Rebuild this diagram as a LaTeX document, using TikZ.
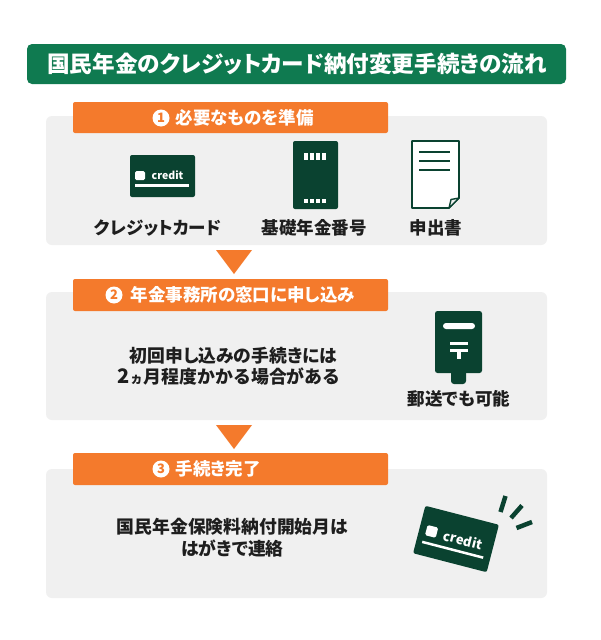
\documentclass[tikz,border=0pt]{standalone}
\usepackage{fontspec}
\setmainfont{Noto Sans CJK JP}[RawFeature=+palt]
\newfontfamily\jpfull{Noto Sans CJK JP}
\usetikzlibrary{calc}
\definecolor{titlegreen}{HTML}{0F7A50}
\definecolor{dark}{HTML}{0A4230}
\definecolor{panel}{HTML}{F0F0F0}
\definecolor{orangebar}{HTML}{F47A2C}
\definecolor{ink}{HTML}{1E1E1E}
\tikzset{
 x=1pt,y=-1pt,
 panelbox/.style={fill=panel,rounded corners=6pt},
 headbar/.style={fill=orangebar,rounded corners=2pt},
 flowtri/.style={fill=orangebar},
 hd/.style={text=white,font=\fontsize{17.5}{18}\selectfont\bfseries,inner sep=0pt,anchor=base west},
 lbl/.style={text=ink,font=\fontsize{17.5}{18}\selectfont\bfseries,inner sep=0pt,anchor=base},
 body/.style={text=ink,font=\fontsize{17.8}{22}\selectfont\bfseries,inner sep=0pt,anchor=base},
 num/.style={circle,fill=white,minimum size=17pt,inner sep=0pt,text=orangebar,font=\fontsize{13}{13}\selectfont\bfseries},
 darkfill/.style={fill=dark},
 whitefill/.style={fill=white},
}
\begin{document}
\begin{tikzpicture}
\useasboundingbox (0,0) rectangle (600,640);
\fill[white] (0,0) rectangle (600,640);
% title
\fill[titlegreen,rounded corners=5pt] (27,44) rectangle (566,84);
\node[inner sep=0pt,text=white,font=\fontsize{22.6}{24}\selectfont\bfseries,anchor=base] (title) at (297,72) {国民年金のクレジットカード納付変更手続きの流れ};
% panels
\fill[panelbox] (46,116) rectangle (547,245);
\fill[panelbox] (46,292) rectangle (547,420);
\fill[panelbox] (46,469) rectangle (547,598);
% arrows
\fill[flowtri] (216,250) -- (252,250) -- (234,274) -- cycle;
\fill[flowtri] (216,425) -- (252,425) -- (234,449) -- cycle;
% head bars
\fill[headbar] (73,102) rectangle (388,133);
\fill[headbar] (73,279) rectangle (388,311);
\fill[headbar] (73,453) rectangle (388,485);
\node[num] (n1) at (161,118) {1};
\node[hd] (h1) at (175.5,124) {必要なものを準備};
\node[num] (n2) at (114,295) {2};
\node[hd] (h2) at (130.5,301) {年金事務所の窓口に申し込み};
\node[num] (n3) at (161,469) {3};
\node[hd] (h3) at (175.5,475) {手続き完了};
% card icon
\fill[darkfill,rounded corners=2pt] (130,155) rectangle (195,197);
\fill[whitefill,rounded corners=1.5pt] (135,171) rectangle (145,180);
\node[inner sep=0pt,text=white,font=\fontsize{10.5}{12}\selectfont\bfseries,anchor=base] (c1) at (167.5,179) {credit};
\fill[whitefill] (135,184) rectangle (189,186.5);
% book icon
\fill[darkfill,rounded corners=2pt] (293,141) rectangle (338,209);
\foreach \xx in {304,310,316,322}{
 \fill[whitefill] (\xx,153) rectangle ++(4.2,7);
 \fill[whitefill] (\xx,199) rectangle ++(4.2,4);
}
% document icon
\filldraw[draw=dark,fill=white,line width=1.7pt,line join=round] (412,141) -- (459,141) -- (459,198) -- (449,208) -- (412,208) -- cycle;
\filldraw[draw=dark,fill=panel,line width=1.4pt,line join=round] (459,198) -- (451,199.5) -- (449,208) -- cycle;
\foreach \yy in {152,161,170}{\fill[dark] (418.5,\yy-1) rectangle (450,\yy+1);}
% labels
\node[lbl] (l1) at (158,234) {クレジットカード};
\node[lbl] (l2) at (314,234) {基礎年金番号};
\node[lbl] (l3) at (436,234) {申出書};
% body 2
\node[body] (b21) at (233.5,362) {初回申し込みの手続きには};
\node[body,anchor=base west] (b22) at (117,383) {{\fontsize{20}{20}\selectfont 2}\hspace{2pt}{\fontsize{13}{13}\selectfont ヵ}\hspace{2pt}{\jpfull\bfseries\fontsize{17.9}{22}\selectfont 月程度かかる場合がある}};
% post icon
\fill[darkfill,rounded corners=2.5pt] (435,311) rectangle (482,373);
\fill[darkfill,rounded corners=3pt] (451,368) rectangle (466,384);
\fill[whitefill,rounded corners=3pt] (443,323) rectangle (475,329);
\fill[whitefill] (450,342) rectangle (468,345);
\fill[whitefill] (450,348.5) rectangle (468,351.5);
\fill[whitefill] (456.5,351) rectangle (461,359);
\node[lbl] (l4) at (459,405) {郵送でも可能};
% body 3
\node[body] (b31) at (232.5,533) {国民年金保険料納付開始月は};
\node[body] (b32) at (232.5,555) {はがきで連絡};
% tilted card
\begin{scope}[shift={(456,539)},rotate=-14.5]
 \fill[darkfill,rounded corners=2pt] (-38,-24.5) rectangle (38,24.5);
 \fill[whitefill,rounded corners=1.5pt] (-31,-6.5) rectangle (-20,4);
 \node[inner sep=0pt,text=white,font=\fontsize{13}{14}\selectfont\bfseries,anchor=center,rotate=-14.5] (c2) at (7,-1) {credit};
 \fill[whitefill] (-32,10) rectangle (31,12.5);
\end{scope}
\draw[dark,line width=4.5pt] (505.5,496) -- (500.5,512);
\draw[dark,line width=4.5pt] (522,505.5) -- (511,518);
\draw[dark,line width=4.5pt] (532,522) -- (516.5,528);
\end{tikzpicture}
\end{document}
